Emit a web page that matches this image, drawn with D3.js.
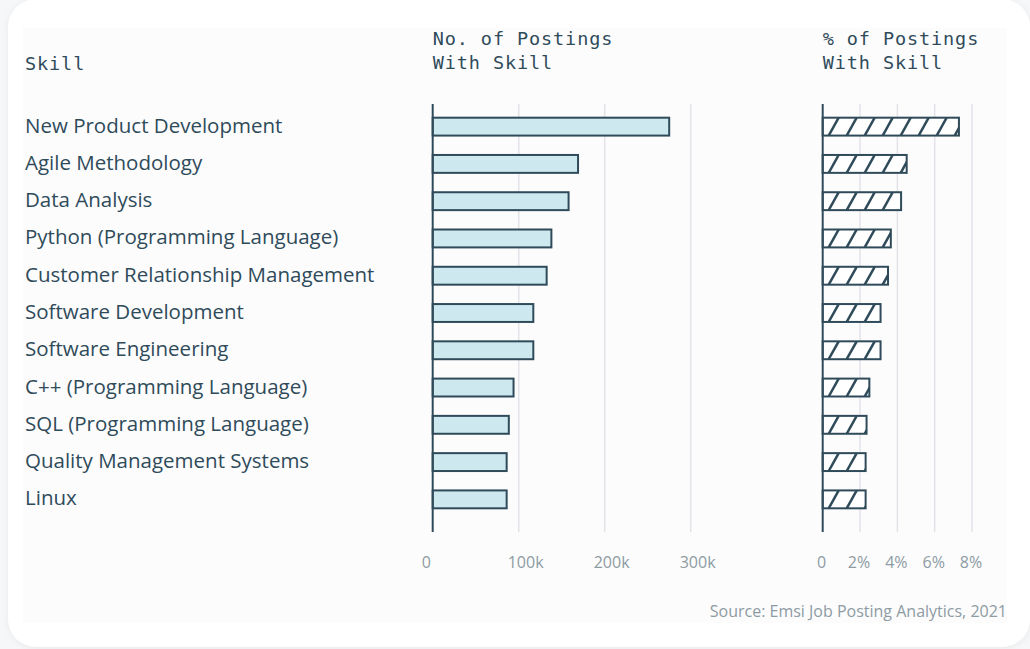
<!DOCTYPE html>
<html>
<head>
<meta charset="utf-8">
<script src="https://cdn.jsdelivr.net/npm/d3@7"></script>
<style>
  html, body { margin: 0; padding: 0; background: #eef0f1; }
  svg { display: block; }
</style>
</head>
<body>
<svg id="chart" width="1030" height="649"></svg>
<script>
// Top skills in job postings
const skills = [
  "New Product Development",
  "Agile Methodology",
  "Data Analysis",
  "Python (Programming Language)",
  "Customer Relationship Management",
  "Software Development",
  "Software Engineering",
  "C++ (Programming Language)",
  "SQL (Programming Language)",
  "Quality Management Systems",
  "Linux"
];
const postings = [275000, 169000, 158000, 138000, 132500, 117000, 117000, 94000, 88500, 86000, 86000];
const shares = [7.3, 4.5, 4.2, 3.65, 3.5, 3.1, 3.1, 2.5, 2.35, 2.3, 2.3];

const countTicks = [0, 100000, 200000, 300000];
const countTickLabels = ["0", "100k", "200k", "300k"];
const shareTicks = [0, 2, 4, 6, 8];
const shareTickLabels = ["0", "2%", "4%", "6%", "8%"];

const ink = "#2f4b5a";
const barFill = "#cde8ee";
const gridColor = "#e3e3e8";
const mutedText = "#8d9ba3";
const sansFont = "'Open Sans', Lato, sans-serif";
const monoFont = "'DejaVu Sans Mono', 'Liberation Mono', monospace";

const svg = d3.select("#chart");

// card background
const defs = svg.append("defs");
const shadow = defs.append("filter").attr("id", "card-shadow")
  .attr("x", "-5%").attr("y", "-5%").attr("width", "110%").attr("height", "110%");
shadow.append("feGaussianBlur").attr("in", "SourceAlpha").attr("stdDeviation", 3);
shadow.append("feOffset").attr("dx", 0).attr("dy", 1).attr("result", "blur");
shadow.append("feFlood").attr("flood-color", "#000").attr("flood-opacity", 0.06);
shadow.append("feComposite").attr("in2", "blur").attr("operator", "in");
const merge = shadow.append("feMerge");
merge.append("feMergeNode");
merge.append("feMergeNode").attr("in", "SourceGraphic");

svg.append("rect").attr("width", 1030).attr("height", 649).attr("fill", "#f6f7f8");
svg.append("rect")
  .attr("x", 8).attr("y", -1)
  .attr("width", 1022).attr("height", 648)
  .attr("rx", 28).attr("fill", "#ffffff")
  .attr("filter", "url(#card-shadow)");
svg.append("rect")
  .attr("x", 23).attr("y", 28)
  .attr("width", 984).attr("height", 595)
  .attr("fill", "#fcfcfd");

// scales
const y = d3.scaleBand().domain(skills).range([108, 518]).paddingInner(0.52).paddingOuter(0.26);
const xCount = d3.scaleLinear().domain([0, 300000]).range([432.7, 690.7]);
const xShare = d3.scaleLinear().domain([0, 8]).range([822.7, 972]);

const gridTop = 104, gridBottom = 532;

// headers
function header(x, lines, y0) {
  const t = svg.append("text")
    .attr("font-family", monoFont).attr("font-size", 18.5)
    .attr("letter-spacing", 0.9)
    .attr("fill", ink);
  lines.forEach((line, i) => {
    t.append("tspan").attr("x", x).attr("y", y0 + i * 24).text(line);
  });
}
header(25, ["Skill"], 70);
header(xCount(0), ["No. of Postings", "With Skill"], 45);
header(xShare(0), ["% of Postings", "With Skill"], 45);

// skill labels
svg.append("g").selectAll("text")
  .data(skills)
  .join("text")
  .attr("x", 25)
  .attr("y", d => y(d) + y.bandwidth() / 2 + 6)
  .attr("font-family", sansFont).attr("font-size", 20.5)
  .attr("fill", ink)
  .text(d => d);

// gridlines
function grid(scale, ticks) {
  svg.append("g").selectAll("line")
    .data(ticks.filter(t => t !== 0))
    .join("line")
    .attr("x1", d => scale(d)).attr("x2", d => scale(d))
    .attr("y1", gridTop).attr("y2", gridBottom)
    .attr("stroke", gridColor).attr("stroke-width", 1.5);
}
grid(xCount, countTicks);
grid(xShare, shareTicks);

// tick labels
function tickLabels(scale, ticks, labels, anchor, dx) {
  svg.append("g").selectAll("text")
    .data(ticks)
    .join("text")
    .attr("x", d => scale(d) + dx)
    .attr("y", 568)
    .attr("text-anchor", anchor)
    .attr("font-family", sansFont).attr("font-size", 16)
    .attr("fill", mutedText)
    .text((d, i) => labels[i]);
}
tickLabels(xCount, countTicks, countTickLabels, "start", -11);
tickLabels(xShare, shareTicks, shareTickLabels, "middle", -1);

// count bars
svg.append("g").selectAll("rect")
  .data(skills)
  .join("rect")
  .attr("x", xCount(0))
  .attr("y", d => y(d))
  .attr("width", (d, i) => xCount(postings[i]) - xCount(0))
  .attr("height", y.bandwidth())
  .attr("fill", barFill)
  .attr("stroke", ink).attr("stroke-width", 2);

// share bars with diagonal hatching
const hatchStep = 18, hatchLean = 10;
const shareGroup = svg.append("g");
skills.forEach((s, i) => {
  const x0 = xShare(0), x1 = xShare(shares[i]);
  const top = y(s), h = y.bandwidth();
  defs.append("clipPath").attr("id", "clip-share-" + i)
    .append("rect").attr("x", x0).attr("y", top).attr("width", x1 - x0).attr("height", h);
  const g = shareGroup.append("g");
  g.append("rect")
    .attr("x", x0).attr("y", top).attr("width", x1 - x0).attr("height", h)
    .attr("fill", "#ffffff");
  const starts = d3.range(x0 - hatchLean - 2, x1 + 2, hatchStep);
  g.append("g").attr("clip-path", "url(#clip-share-" + i + ")")
    .selectAll("line").data(starts).join("line")
    .attr("x1", d => d).attr("y1", top + h)
    .attr("x2", d => d + hatchLean).attr("y2", top)
    .attr("stroke", ink).attr("stroke-width", 2.5);
  g.append("rect")
    .attr("x", x0).attr("y", top).attr("width", x1 - x0).attr("height", h)
    .attr("fill", "none").attr("stroke", ink).attr("stroke-width", 2);
});

// baseline axes
[xCount(0), xShare(0)].forEach(x => {
  svg.append("line")
    .attr("x1", x).attr("x2", x)
    .attr("y1", gridTop).attr("y2", gridBottom)
    .attr("stroke", ink).attr("stroke-width", 2);
});

// source note
svg.append("text")
  .attr("x", 1007).attr("y", 617)
  .attr("text-anchor", "end")
  .attr("font-family", sansFont).attr("font-size", 16)
  .attr("fill", mutedText)
  .text("Source: Emsi Job Posting Analytics, 2021");
</script>
</body>
</html>
